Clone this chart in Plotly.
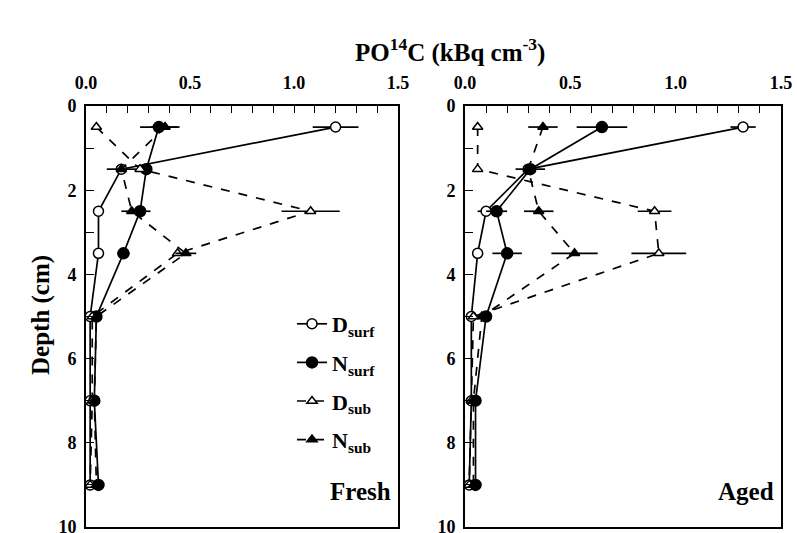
import plotly.graph_objects as go
from plotly.subplots import make_subplots

depth = [0.5, 1.5, 2.5, 3.5, 5, 7, 9]

# Fresh panel
fresh_dsurf = [1.20, 0.17, 0.06, 0.06, 0.02, 0.02, 0.02]
fresh_nsurf = [0.35, 0.29, 0.26, 0.18, 0.05, 0.04, 0.06]
fresh_dsub = [0.05, 0.26, 1.08, 0.44, 0.03, 0.03, 0.02]
fresh_nsub = [0.38, 0.17, 0.22, 0.48, 0.05, 0.04, 0.05]
fresh_dsurf_err = [0.11, 0.0, 0.0, 0.0, 0.0, 0.0, 0.0]
fresh_nsurf_err = [0.09, 0.0, 0.05, 0.03, 0.0, 0.0, 0.0]
fresh_dsub_err = [0.0, 0.0, 0.14, 0.0, 0.0, 0.0, 0.0]
fresh_nsub_err = [0.07, 0.07, 0.05, 0.05, 0.0, 0.0, 0.0]

# Aged panel
aged_dsurf = [1.32, 0.30, 0.10, 0.06, 0.03, 0.03, 0.02]
aged_nsurf = [0.65, 0.31, 0.15, 0.20, 0.10, 0.05, 0.05]
aged_dsub = [0.06, 0.06, 0.90, 0.92, 0.04, 0.03, 0.02]
aged_nsub = [0.37, 0.30, 0.35, 0.52, 0.08, 0.04, 0.04]
aged_dsurf_err = [0.06, 0.0, 0.04, 0.0, 0.0, 0.0, 0.0]
aged_nsurf_err = [0.12, 0.07, 0.05, 0.07, 0.0, 0.0, 0.0]
aged_dsub_err = [0.0, 0.0, 0.08, 0.13, 0.0, 0.0, 0.0]
aged_nsub_err = [0.07, 0.0, 0.07, 0.11, 0.0, 0.0, 0.0]

x_ticks = [0.0, 0.5, 1.0, 1.5]
y_ticks = [0, 2, 4, 6, 8, 10]

FONT = "Liberation Serif"

fig = make_subplots(rows=1, cols=2)

series = [
    ("D<sub>surf</sub>", "solid", "circle", "white", 10),
    ("N<sub>surf</sub>", "solid", "circle", "black", 11),
    ("D<sub>sub</sub>", "dash", "triangle-up", "white", 9),
    ("N<sub>sub</sub>", "dash", "triangle-up", "black", 9),
]
fresh = [(fresh_dsurf, fresh_dsurf_err), (fresh_nsurf, fresh_nsurf_err),
         (fresh_dsub, fresh_dsub_err), (fresh_nsub, fresh_nsub_err)]
aged = [(aged_dsurf, aged_dsurf_err), (aged_nsurf, aged_nsurf_err),
        (aged_dsub, aged_dsub_err), (aged_nsub, aged_nsub_err)]

for col, data in ((1, fresh), (2, aged)):
    for k, ((name, dash, sym, fill, size), (vals, errs)) in enumerate(zip(series, data)):
        fig.add_trace(go.Scatter(
            x=vals, y=depth, name=name, mode="lines+markers",
            legendgroup=f"g{k}",
            line=dict(color="black", width=1.7, dash=dash),
            marker=dict(symbol=sym, color=fill, size=size,
                        line=dict(color="black", width=1.5)),
            error_x=dict(type="data", array=errs, visible=True,
                         color="black", thickness=1.7, width=0),
            showlegend=(col == 1),
            cliponaxis=False,
        ), row=1, col=col)

axis_common = dict(
    showline=True, linecolor="black", linewidth=2, mirror=True, automargin=False,
    ticks="inside", tickcolor="black", showgrid=False, zeroline=False,
    ticklabeloverflow="allow",
    tickfont=dict(family=FONT, size=18, color="black", weight="bold"),
)
for i, dom in ((1, [86 / 797, 398 / 797]), (2, [465 / 797, 781 / 797])):
    fig.update_xaxes(
        range=[0, 1.5], domain=dom, side="top", tickvals=x_ticks,
        tickformat=".1f", ticklen=7, tickwidth=1.3, ticklabelstandoff=8,
        minor=dict(dtick=0.1, ticks="inside", ticklen=7, tickcolor="black", tickwidth=1.3),
        **axis_common, row=1, col=i)
    fig.update_yaxes(
        range=[10, 0], domain=[6 / 533, 427 / 533], tickvals=y_ticks,
        ticklen=8, tickwidth=1.3, ticklabelstandoff=4,
        minor=dict(dtick=1, ticks="inside", ticklen=8, tickcolor="black", tickwidth=1.3),
        **axis_common, row=1, col=i)

fig.add_annotation(text="PO<sup>14</sup>C (kBq cm<sup>-3</sup>)", xref="paper", yref="paper",
                   x=450 / 797, y=1 - 32 / 533, showarrow=False,
                   font=dict(family=FONT, size=25, color="black", weight="bold"))
fig.add_annotation(text="Depth (cm)", xref="paper", yref="paper",
                   x=25 / 797, y=1 - 315 / 533, showarrow=False, textangle=-90,
                   font=dict(family=FONT, size=25, color="black", weight="bold"))
fig.add_annotation(text="Fresh", xref="paper", yref="paper",
                   x=393 / 797, y=1 - 507 / 533, xanchor="right", showarrow=False,
                   font=dict(family=FONT, size=25, color="black", weight="bold"))
fig.add_annotation(text="Aged", xref="paper", yref="paper",
                   x=776 / 797, y=1 - 507 / 533, xanchor="right", showarrow=False,
                   font=dict(family=FONT, size=25, color="black", weight="bold"))

fig.update_layout(
    width=797, height=533, margin=dict(l=0, r=0, t=0, b=0, autoexpand=False),
    paper_bgcolor="white", plot_bgcolor="white",
    legend=dict(x=292 / 797, y=1 - 303 / 533, xanchor="left", yanchor="top",
                bgcolor="rgba(0,0,0,0)", borderwidth=0, itemwidth=30,
                tracegroupgap=7,
                font=dict(family=FONT, size=22, color="black", weight="bold")),
)

fig.write_html("out.html")
